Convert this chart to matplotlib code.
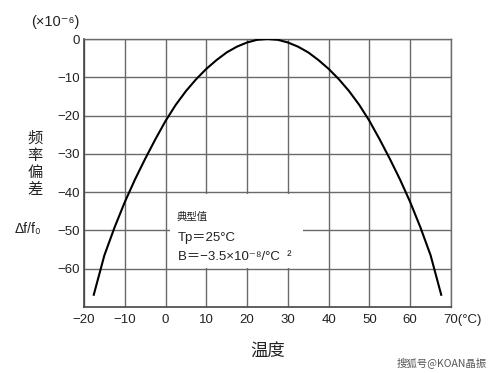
import matplotlib
matplotlib.use('Agg')
from matplotlib import pyplot as plt
from matplotlib.patches import Rectangle
from matplotlib.transforms import ScaledTranslation

# values
temps = [-17.6, -15.0, -12.5, -10.0, -7.5, -5.0, -2.5, 0.0, 2.5, 5.0, 7.5, 10.0,
         12.5, 15.0, 17.5, 20.0, 22.5, 25.0, 27.5, 30.0, 32.5, 35.0, 37.5,
         40.0, 42.5, 45.0, 47.5, 50.0, 52.5, 55.0, 57.5, 60.0, 62.5, 65.0, 67.6]
deviation = [-66.8, -56.5, -49.2, -42.6, -36.7, -31.3, -26.2, -21.4, -17.2, -13.6, -10.5, -7.8,
             -5.5, -3.5, -2.0, -0.9, -0.2, 0.0, -0.2, -0.9, -2.0, -3.5, -5.5,
             -7.8, -10.5, -13.6, -17.2, -21.4, -26.2, -31.3, -36.7, -42.6, -49.2, -56.5, -66.8]

x_ticks = [-20, -10, 0, 10, 20, 30, 40, 50, 60, 70]
x_labels = ['−20', '−10', '0', '10', '20', '30', '40', '50', '60', '70(°C)']
y_ticks = [0, -10, -20, -30, -40, -50, -60]
y_labels = ['0', '−10', '−20', '−30', '−40', '−50', '−60']

note_title = '典型值'
note_lines = ['Tp＝25°C', 'B＝−3.5×10⁻⁸/°C  ²']

FAMILY = ['Liberation Sans', 'Noto Sans CJK SC', 'DejaVu Sans']
CJK = ['Noto Sans CJK SC', 'DejaVu Sans']
plt.rcParams['font.family'] = FAMILY

fig = plt.figure(figsize=(4.99, 3.73), dpi=100)
ax = fig.add_axes([0.1683, 0.1769, 0.7355, 0.7185])

ax.set_xlim(-20, 70)
ax.set_ylim(-70, 0)
ax.set_xticks(x_ticks)
ax.set_xticklabels(x_labels)
ax.set_yticks(y_ticks)
ax.set_yticklabels(y_labels)
ax.tick_params(length=0, labelsize=9.5, colors='#222222')
ax.tick_params(axis='y', pad=3)
ax.tick_params(axis='x', pad=5)

# last label "70(°C)": keep "70" under its tick
lab = ax.get_xticklabels()[-1]
lab.set_transform(lab.get_transform() + ScaledTranslation(0.115, 0, fig.dpi_scale_trans))

ax.grid(True, color='#6a6a6a', linewidth=1.0)
ax.set_axisbelow(True)
for side in ['top', 'right']:
    ax.spines[side].set_color('#6a6a6a')
    ax.spines[side].set_linewidth(1.0)
for side in ['left', 'bottom']:
    ax.spines[side].set_color('#444444')
    ax.spines[side].set_linewidth(1.2)

ax.plot(temps, deviation, color='black', linewidth=1.5, zorder=3)

# white note box over the grid
ax.add_patch(Rectangle((1.1, -59.8), 32.6, 19.3, facecolor='white', edgecolor='none', zorder=2))
ax.text(2.7, -46.4, note_title, family=CJK, fontsize=7.5, va='center', color='#222222', zorder=4)
ax.text(3.1, -52.0, note_lines[0], fontsize=9.5, va='center', color='#222222', zorder=4)
ax.text(3.1, -56.9, note_lines[1], fontsize=9.5, va='center', color='#222222', zorder=4)

fig.text(0.0615, 0.942, '(×10⁻⁶)', fontsize=10.5, va='center', ha='left', color='#222222')
fig.text(0.070, 0.56, '频\n率\n偏\n差', family=CJK, fontsize=11, va='center', ha='center',
         linespacing=1.0, color='#222222')
fig.text(0.03, 0.386, 'Δf/f₀', fontsize=10, va='center', ha='left', color='#222222')
fig.text(0.537, 0.057, '温度', family=CJK, fontsize=12.5, va='center', ha='center', color='#222222')
fig.text(0.976, 0.029, '搜狐号@KOAN晶振', family=CJK, fontsize=7.5, va='center', ha='right', color='#555555')

fig.savefig('out.png', dpi=100)
